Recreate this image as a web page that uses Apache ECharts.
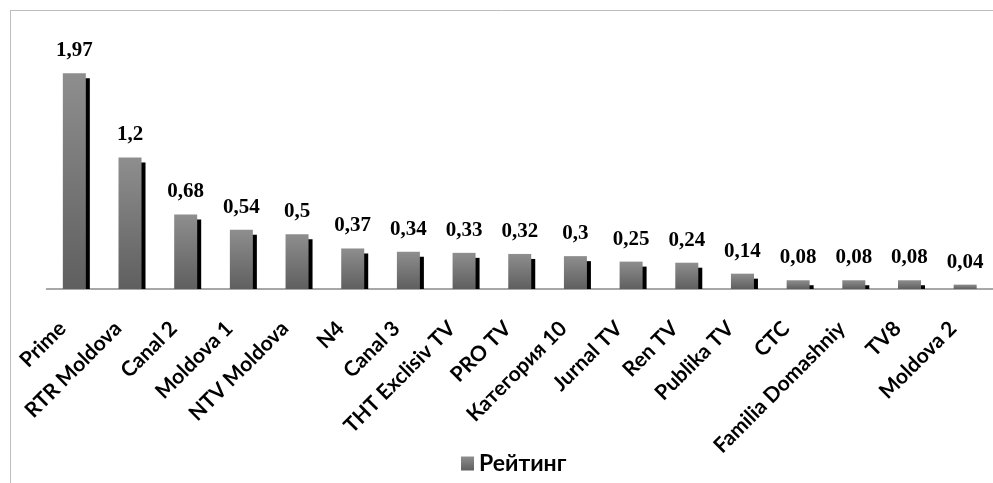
<!DOCTYPE html>
<html><head><meta charset="utf-8">
<script src="https://cdn.jsdelivr.net/npm/echarts@6/dist/echarts.min.js"></script>
<style>html,body{margin:0;padding:0;background:#fff}#c{width:993px;height:483px}</style>
</head><body><div id="c"></div>
<script>
const categories = ["Prime","RTR Moldova","Canal 2","Moldova 1","NTV Moldova","N4","Canal 3","THT Exclisiv TV","PRO TV","Категория 10","Jurnal TV","Ren TV","Publika TV","CTC","Familia Domashniy","TV8","Moldova 2"];
const ratings = [1.97,1.2,0.68,0.54,0.5,0.37,0.34,0.33,0.32,0.3,0.25,0.24,0.14,0.08,0.08,0.08,0.04];
const seriesName = "Рейтинг";

const BAR_W = 23;
const chart = echarts.init(document.getElementById('c'));
const grad = new echarts.graphic.LinearGradient(0,0,0,1,[{offset:0,color:'#8e8e8e'},{offset:1,color:'#5f5f5f'}]);
chart.setOption({
  animation:false,
  backgroundColor:'#fff',
  graphic:[
    {type:'line',shape:{x1:10,y1:10.5,x2:993,y2:10.5},style:{stroke:'#bdbdbd',lineWidth:1}},
    {type:'line',shape:{x1:10.5,y1:10,x2:10.5,y2:483},style:{stroke:'#bdbdbd',lineWidth:1}}
  ],
  legend:{
    data:[{name:seriesName,icon:'rect'}],
    left:456, top:447, itemWidth:13, itemHeight:14, itemGap:5,
    textStyle:{fontFamily:'Lato',fontSize:23,fontWeight:'bold',color:'#000'}
  },
  grid:{left:46.5,width:950,top:48,bottom:194,containLabel:false},
  xAxis:{
    type:'category',data:categories,
    axisLine:{lineStyle:{color:'#8a8a8a',width:1.5}},
    axisTick:{show:false},
    axisLabel:{rotate:45,interval:0,margin:24,padding:[0,17,0,0],color:'#000',fontFamily:'Lato',fontSize:21,fontWeight:'bold'}
  },
  yAxis:{type:'value',min:0,max:2.2,show:false,splitLine:{show:false}},
  series:[
    {
      name:'shadow',type:'custom',z:1,silent:true,
      data:ratings.map((v,i)=>[i,v]),
      renderItem:(params,api)=>{
        const top = api.coord([api.value(0), api.value(1)]);
        const base = api.coord([api.value(0), 0]);
        const y = top[1] + 5;
        return {type:'rect',shape:{x:top[0]-BAR_W/2+4,y:y,width:BAR_W,height:Math.max(0,base[1]-y)},style:{fill:'#000'}};
      }
    },
    {
      name:seriesName,type:'bar',data:ratings,barWidth:BAR_W,z:2,
      itemStyle:{color:grad},
      label:{show:true,position:'top',distance:12,color:'#000',fontFamily:'Liberation Serif',fontWeight:'bold',fontSize:21,
        formatter:p=>String(p.value).replace('.',',')}
    }
  ]
});
</script></body></html>
